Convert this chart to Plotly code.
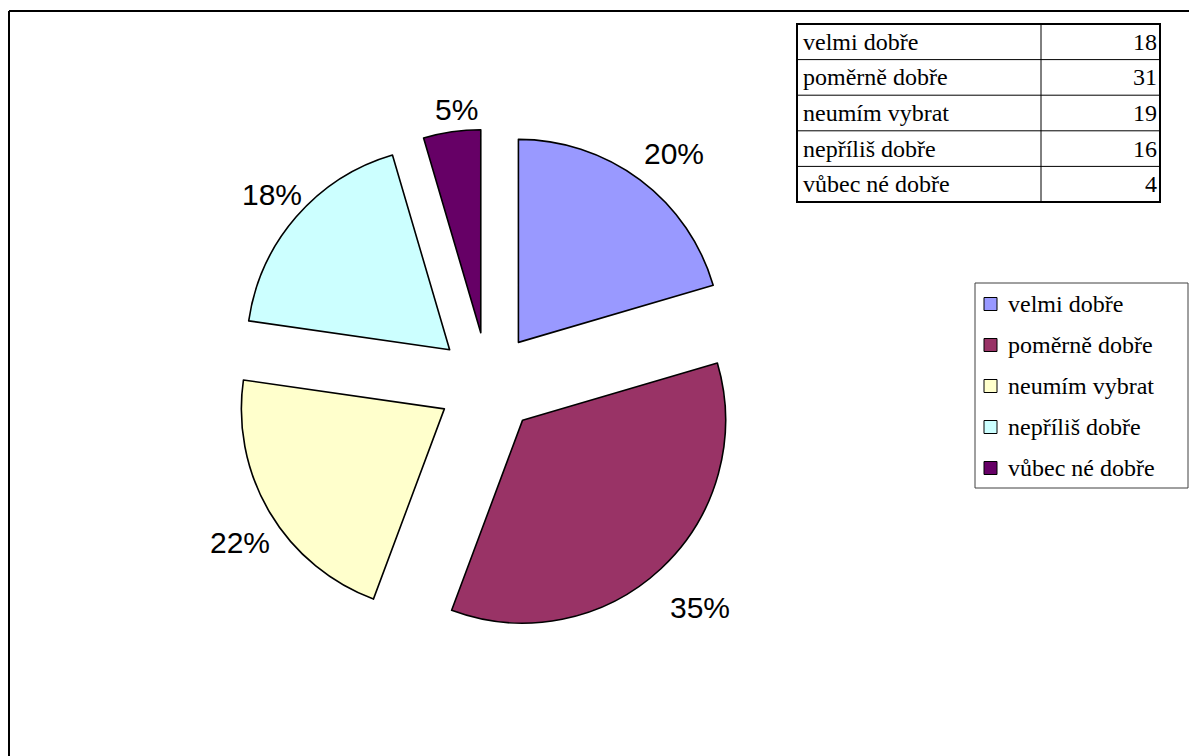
import math
import plotly.graph_objects as go

# Survey answers and their counts
categories = ["velmi dobře", "poměrně dobře", "neumím vybrat", "nepříliš dobře", "vůbec né dobře"]
counts = [18, 31, 19, 16, 4]
slice_colors = ["#9999FF", "#993366", "#FFFFCC", "#CCFFFF", "#660066"]

W, H = 1189, 756

# Pie geometry in pixels
CX, CY, R, PULL = 488, 383, 203, 0.25


def px(x):
    return x / W


def py(y):
    return 1 - y / H


fig = go.Figure()

half = R * (1 + PULL)
fig.add_trace(go.Pie(
    labels=categories,
    values=counts,
    sort=False,
    direction="clockwise",
    rotation=0,
    pull=[PULL] * len(counts),
    marker=dict(colors=slice_colors, line=dict(color="black", width=1.6)),
    textinfo="none",
    domain=dict(x=[px(CX - half), px(CX + half)], y=[py(CY + half), py(CY - half)]),
    showlegend=False,
    hoverinfo="label+value+percent",
))

shapes = []
annotations = []

# Percentage labels just outside each exploded slice
total = sum(counts)
label_font = dict(family="Liberation Sans, Arial", size=30, color="black")
start = 0.0
for n in counts:
    frac = n / total
    mid = math.radians((start + frac / 2) * 360)
    start += frac
    txt = f"{round(frac * 100)}%"
    hw = 0.5 * 30 * (0.556 * (len(txt) - 1) + 0.889)
    hh = 15
    dist = half + 12 + abs(hw * math.sin(mid)) + abs(hh * math.cos(mid))
    lx = CX + dist * math.sin(mid) + 9
    ly = CY - dist * math.cos(mid) + 7
    annotations.append(dict(x=px(lx), y=py(ly), xref="paper", yref="paper",
                            text=txt, showarrow=False, xanchor="center", yanchor="middle",
                            font=label_font))

# Frame lines along top and left edges
shapes.append(dict(type="line", xref="paper", yref="paper",
                   x0=px(9), x1=1, y0=py(11), y1=py(11),
                   line=dict(color="black", width=2)))
shapes.append(dict(type="line", xref="paper", yref="paper",
                   x0=px(9), x1=px(9), y0=py(11), y1=0,
                   line=dict(color="black", width=2)))

# Data table (top right)
t_left, t_right, t_top, t_bottom, t_split = 797, 1160, 24, 202, 1041
row_h = (t_bottom - t_top) / len(categories)
for i in range(1, len(categories)):
    y = t_top + i * row_h
    shapes.append(dict(type="line", xref="paper", yref="paper",
                       x0=px(t_left), x1=px(t_right), y0=py(y), y1=py(y),
                       line=dict(color="black", width=1)))
shapes.append(dict(type="line", xref="paper", yref="paper",
                   x0=px(t_split), x1=px(t_split), y0=py(t_top), y1=py(t_bottom),
                   line=dict(color="black", width=1)))
shapes.append(dict(type="rect", xref="paper", yref="paper",
                   x0=px(t_left), x1=px(t_right), y0=py(t_bottom), y1=py(t_top),
                   line=dict(color="black", width=2)))

serif = dict(family="Liberation Serif", size=24, color="black")
for i, (cat, n) in enumerate(zip(categories, counts)):
    yc = t_top + (i + 0.5) * row_h
    annotations.append(dict(x=px(t_left + 4), y=py(yc), xref="paper", yref="paper",
                            text=cat, showarrow=False, xanchor="left", yanchor="middle",
                            font=serif))
    annotations.append(dict(x=px(t_right - 1), y=py(yc), xref="paper", yref="paper",
                            text=str(n), showarrow=False, xanchor="right", yanchor="middle",
                            font=serif))

# Legend box with colour keys
l_left, l_right, l_top, l_bottom = 975, 1188, 283, 488
shapes.append(dict(type="rect", xref="paper", yref="paper",
                   x0=px(l_left), x1=px(l_right), y0=py(l_bottom), y1=py(l_top),
                   line=dict(color="#404040", width=1)))
l_step = (l_bottom - l_top) / len(categories)
for i, (cat, col) in enumerate(zip(categories, slice_colors)):
    yc = l_top + (i + 0.5) * l_step
    shapes.append(dict(type="rect", xref="paper", yref="paper",
                       x0=px(984), x1=px(997), y0=py(yc + 7), y1=py(yc - 6),
                       fillcolor=col, line=dict(color="black", width=1)))
    annotations.append(dict(x=px(1006), y=py(yc), xref="paper", yref="paper",
                            text=cat, showarrow=False, xanchor="left", yanchor="middle",
                            font=serif))

fig.update_layout(
    width=W, height=H,
    margin=dict(l=0, r=0, t=0, b=0),
    paper_bgcolor="white",
    plot_bgcolor="white",
    shapes=shapes,
    annotations=annotations,
)

fig.write_html("out.html")
